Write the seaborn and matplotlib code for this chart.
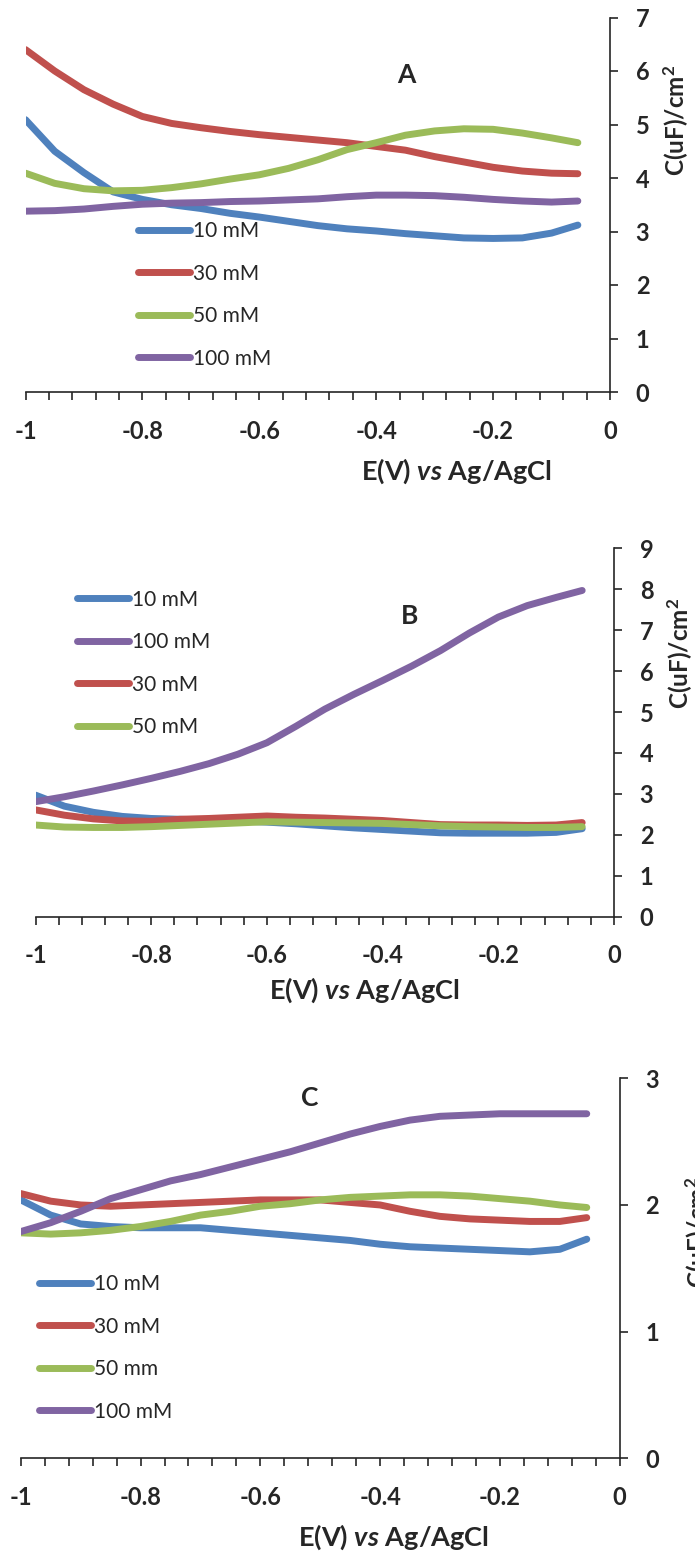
import numpy as np
import pandas as pd
import matplotlib
matplotlib.use("Agg")
import matplotlib.pyplot as plt
import seaborn as sns

# ---------------- data ----------------
E = [-1.0, -0.95, -0.9, -0.85, -0.8, -0.75, -0.7, -0.65, -0.6, -0.55,
     -0.5, -0.45, -0.4, -0.35, -0.3, -0.25, -0.2, -0.15, -0.1, -0.055]

# Panel A
A_10 = [5.09, 4.50, 4.10, 3.74, 3.60, 3.50, 3.43, 3.34, 3.27, 3.19,
        3.11, 3.05, 3.01, 2.96, 2.92, 2.88, 2.87, 2.88, 2.97, 3.12]
A_30 = [6.40, 6.00, 5.65, 5.38, 5.15, 5.02, 4.94, 4.87, 4.81, 4.76,
        4.71, 4.66, 4.59, 4.52, 4.40, 4.30, 4.20, 4.13, 4.09, 4.08]
A_50 = [4.09, 3.90, 3.80, 3.76, 3.77, 3.82, 3.89, 3.98, 4.06, 4.18,
        4.34, 4.53, 4.66, 4.80, 4.88, 4.92, 4.91, 4.84, 4.75, 4.66]
A_100 = [3.38, 3.39, 3.42, 3.47, 3.51, 3.53, 3.54, 3.56, 3.57, 3.59,
         3.61, 3.65, 3.68, 3.68, 3.67, 3.64, 3.60, 3.57, 3.55, 3.57]

# Panel B
B_10 = [2.97, 2.70, 2.55, 2.45, 2.40, 2.38, 2.36, 2.34, 2.31, 2.27,
        2.22, 2.17, 2.13, 2.09, 2.05, 2.04, 2.04, 2.04, 2.06, 2.15]
B_30 = [2.61, 2.48, 2.39, 2.34, 2.33, 2.38, 2.40, 2.43, 2.46, 2.43,
        2.41, 2.38, 2.35, 2.30, 2.25, 2.24, 2.24, 2.23, 2.24, 2.30]
B_50 = [2.24, 2.19, 2.18, 2.18, 2.20, 2.23, 2.26, 2.29, 2.32, 2.31,
        2.30, 2.29, 2.28, 2.25, 2.22, 2.20, 2.19, 2.18, 2.18, 2.20]
B_100 = [2.81, 2.93, 3.07, 3.22, 3.38, 3.55, 3.74, 3.97, 4.25, 4.65,
         5.07, 5.43, 5.77, 6.12, 6.50, 6.93, 7.32, 7.60, 7.80, 7.97]

# Panel C
C_10 = [2.04, 1.92, 1.85, 1.83, 1.82, 1.82, 1.82, 1.80, 1.78, 1.76,
        1.74, 1.72, 1.69, 1.67, 1.66, 1.65, 1.64, 1.63, 1.65, 1.73]
C_30 = [2.09, 2.03, 2.00, 1.99, 2.00, 2.01, 2.02, 2.03, 2.04, 2.04,
        2.04, 2.02, 2.00, 1.95, 1.91, 1.89, 1.88, 1.87, 1.87, 1.90]
C_50 = [1.78, 1.77, 1.78, 1.80, 1.83, 1.87, 1.92, 1.95, 1.99, 2.01,
        2.04, 2.06, 2.07, 2.08, 2.08, 2.07, 2.05, 2.03, 2.00, 1.98]
C_100 = [1.79, 1.86, 1.95, 2.05, 2.12, 2.19, 2.24, 2.30, 2.36, 2.42,
         2.49, 2.56, 2.62, 2.67, 2.70, 2.71, 2.72, 2.72, 2.72, 2.72]

labels_A = ["10 mM", "30 mM", "50 mM", "100 mM"]
labels_B = ["10 mM", "100 mM", "30 mM", "50 mM"]
labels_C = ["10 mM", "30 mM", "50 mm", "100 mM"]

xticks = [-1, -0.8, -0.6, -0.4, -0.2, 0]
xticklabels = ["-1", "-0.8", "-0.6", "-0.4", "-0.2", "0"]
yticks_A = list(range(0, 8))
yticks_B = list(range(0, 10))
yticks_C = list(range(0, 4))

# ---------------- style ----------------
sns.set_style("white")
plt.rcParams["font.family"] = ["Lato", "DejaVu Sans"]
plt.rcParams["mathtext.fontset"] = "custom"
plt.rcParams["mathtext.it"] = "Lato:italic:bold"
plt.rcParams["mathtext.rm"] = "Lato:bold"
plt.rcParams["mathtext.bf"] = "Lato:bold"

BLUE, RED, GREEN, PURPLE = "#4F81BD", "#C0504D", "#9BBB59", "#8064A2"
LW = 5.0

fig = plt.figure(figsize=(6.95, 15.59), dpi=100)


def make_df(series, names):
    rows = []
    for name, vals in zip(names, series):
        for e, v in zip(E, vals):
            rows.append({"E": e, "C": v, "conc": name})
    return pd.DataFrame(rows)


def style_axis(ax, ymax, yticks):
    ax.set_xlim(-1, 0)
    ax.set_ylim(0, ymax)
    for s in ["left", "top"]:
        ax.spines[s].set_visible(False)
    for s in ["right", "bottom"]:
        ax.spines[s].set_color("#262626")
        ax.spines[s].set_linewidth(1.2)
    ax.yaxis.tick_right()
    ax.set_xticks(xticks)
    ax.set_xticklabels(xticklabels)
    ax.set_xticks(np.arange(-1, 0.001, 0.04), minor=True)
    ax.set_yticks(yticks)
    ax.tick_params(axis="x", which="both", direction="out", length=5.5,
                   width=1.2, color="#262626", bottom=True)
    ax.tick_params(axis="x", which="major", pad=14.5, labelsize=17)
    ax.tick_params(axis="y", which="major", direction="out", length=5.5,
                   width=1.2, color="#262626", right=True, left=False,
                   pad=13, labelsize=17)
    for lab in ax.get_xticklabels() + ax.get_yticklabels():
        lab.set_fontweight("bold")
    ax.set_xlabel("")
    ax.set_ylabel("")
    ax.grid(False)
    ax.patch.set_alpha(0)


def panel(rect, series, names, colors, ymax, yticks, letter, letter_xy,
          leg_xy, xlab_xy, ylab_xy):
    ax = fig.add_axes(rect)
    df = make_df(series, names)
    sns.lineplot(data=df, x="E", y="C", hue="conc", hue_order=names,
                 palette=dict(zip(names, colors)), linewidth=LW, ax=ax,
                 solid_capstyle="round", legend=True)
    style_axis(ax, ymax, yticks)
    handles, labs = ax.get_legend_handles_labels()
    ax.legend(handles, labs, loc="center left",
              bbox_to_anchor=(leg_xy[0] / 695, 1 - leg_xy[1] / 1559),
              bbox_transform=fig.transFigure, frameon=False,
              fontsize=15, handlelength=2.5, handletextpad=0.15,
              labelspacing=1.08, borderpad=0, borderaxespad=0)
    for line in ax.get_legend().get_lines():
        line.set_linewidth(LW)
        line.set_solid_capstyle("round")
    fig.text(letter_xy[0] / 695, 1 - letter_xy[1] / 1559, letter,
             fontsize=19, fontweight="bold", ha="center", va="center")
    fig.text(xlab_xy[0] / 695, 1 - xlab_xy[1] / 1559,
             r"E(V) $\mathit{vs}$ Ag/AgCl", fontsize=19.5, fontweight="bold",
             ha="center", va="center")
    fig.text(ylab_xy[0] / 695, 1 - ylab_xy[1] / 1559,
             r"C(uF)/cm$^{2}$", fontsize=17.5, fontweight="bold",
             ha="center", va="center", rotation=90)
    return ax


def rect_from(x_left, x_right, y_top, y_bottom):
    return [x_left / 695, 1 - y_bottom / 1559,
            (x_right - x_left) / 695, (y_bottom - y_top) / 1559]


panel(rect_from(25.5, 610, 17.5, 392),
      [A_10, A_30, A_50, A_100], labels_A, [BLUE, RED, GREEN, PURPLE],
      7, yticks_A, "A", (406, 75), (138, 295), (456, 471), (676, 120))

panel(rect_from(35.5, 614, 548.3, 916.7),
      [B_10, B_100, B_30, B_50], labels_B, [BLUE, PURPLE, RED, GREEN],
      9, yticks_B, "B", (410, 616), (77, 663.5), (364, 990), (680, 653))

panel(rect_from(20.8, 619.7, 1078.3, 1458.3),
      [C_10, C_30, C_50, C_100], labels_C, [BLUE, RED, GREEN, PURPLE],
      3, yticks_C, "C", (310, 1098), (39, 1348), (393, 1537), (698, 1232))

fig.savefig("out.png", dpi=100)
